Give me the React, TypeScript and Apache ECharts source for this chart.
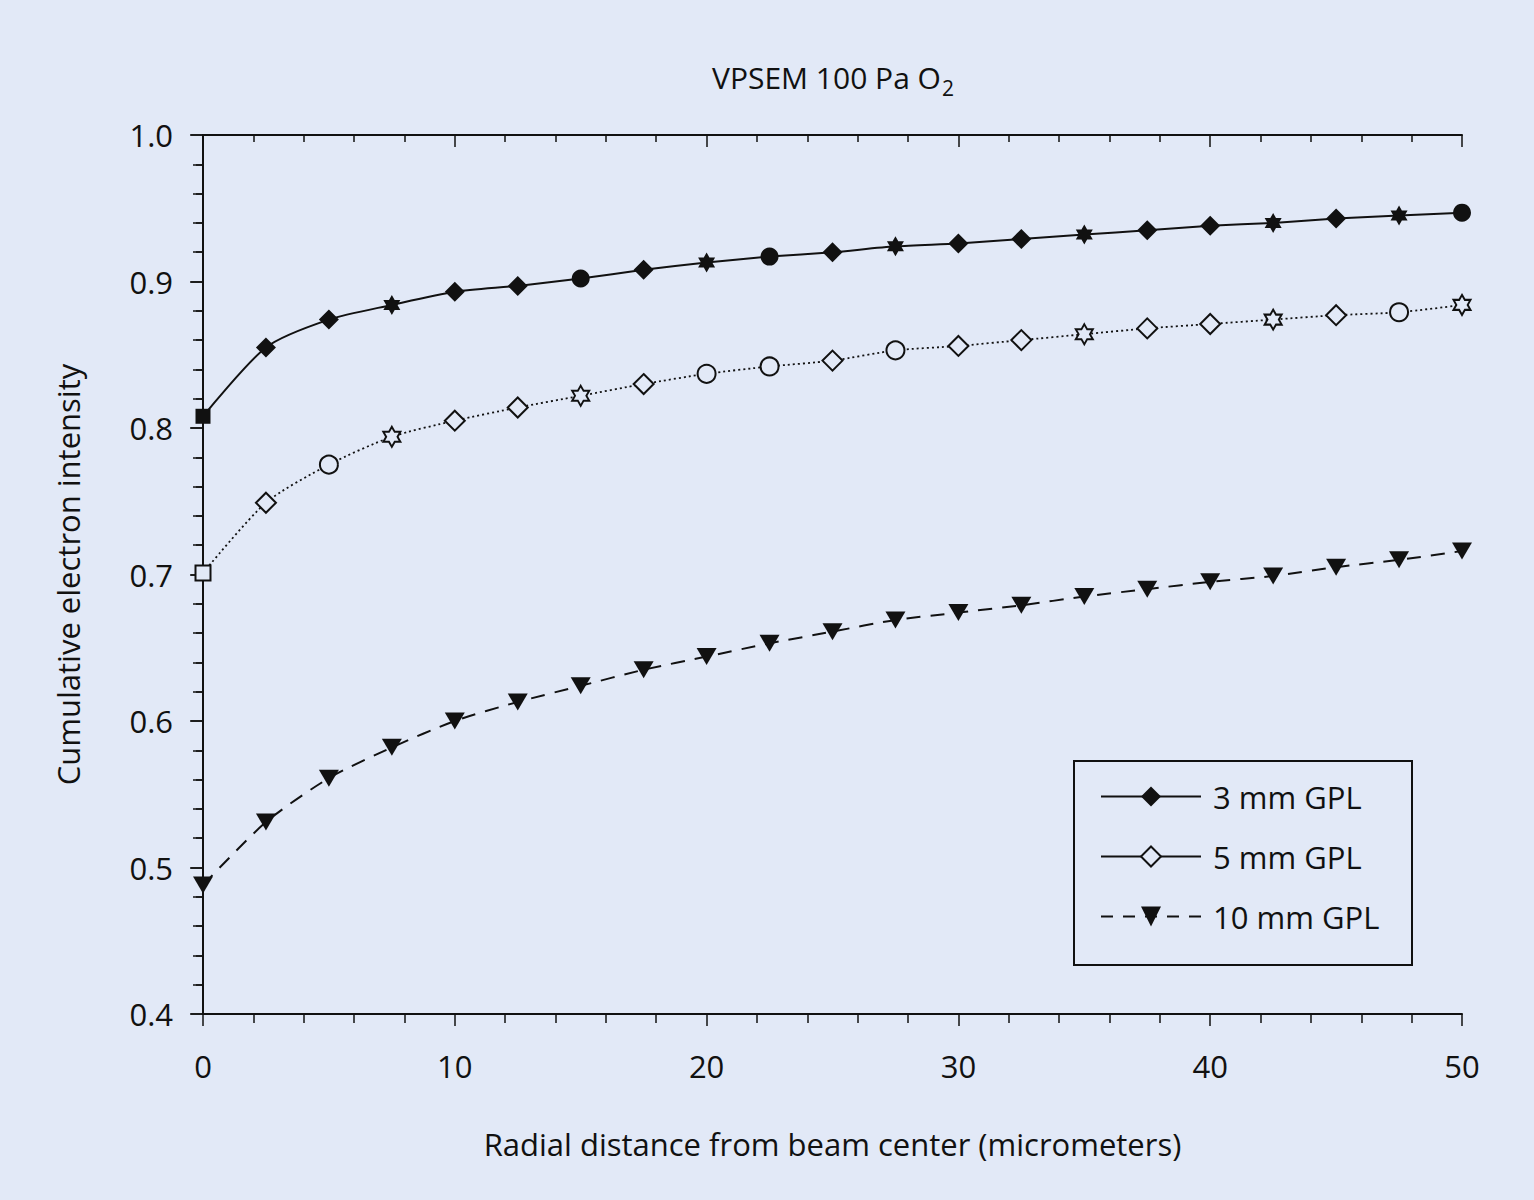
import React, { useEffect, useRef } from "react";
import * as echarts from "echarts";

const BG = "#e2e9f7";
const INK = "#111111";
const FONT = "Open Sans";
const FS = 31;

const xValues = [0, 2.5, 5, 7.5, 10, 12.5, 15, 17.5, 20, 22.5, 25, 27.5, 30, 32.5, 35, 37.5, 40, 42.5, 45, 47.5, 50];

const gpl3 = [0.808, 0.855, 0.874, 0.884, 0.893, 0.897, 0.902, 0.908, 0.913, 0.917, 0.920, 0.924, 0.926, 0.929, 0.932, 0.935, 0.938, 0.940, 0.943, 0.945, 0.947];
const gpl3Markers = ["rect", "diamond", "diamond", "star", "diamond", "diamond", "circle", "diamond", "star", "circle", "diamond", "star", "diamond", "diamond", "star", "diamond", "diamond", "star", "diamond", "star", "circle"];

const gpl5 = [0.701, 0.749, 0.775, 0.794, 0.805, 0.814, 0.822, 0.830, 0.837, 0.842, 0.846, 0.853, 0.856, 0.860, 0.864, 0.868, 0.871, 0.874, 0.877, 0.879, 0.884];
const gpl5Markers = ["rect", "diamond", "circle", "star", "diamond", "diamond", "star", "diamond", "circle", "circle", "diamond", "circle", "diamond", "diamond", "star", "diamond", "diamond", "star", "diamond", "circle", "star"];

const gpl10 = [0.488, 0.531, 0.561, 0.582, 0.600, 0.613, 0.624, 0.635, 0.644, 0.653, 0.661, 0.669, 0.674, 0.679, 0.685, 0.690, 0.695, 0.699, 0.705, 0.710, 0.716];

const seriesNames = ["3 mm GPL", "5 mm GPL", "10 mm GPL"];
const yTicks = [0.4, 0.5, 0.6, 0.7, 0.8, 0.9, 1.0];

const STAR =
  "path://M0,-100L28.87,-50L86.6,-50L57.7,0L86.6,50L28.87,50L0,100L-28.87,50L-86.6,50L-57.7,0L-86.6,-50L-28.87,-50Z";

const markerSpec: Record<string, { symbol: string; size: number | number[] }> = {
  rect: { symbol: "rect", size: 15 },
  diamond: { symbol: "diamond", size: 20 },
  circle: { symbol: "circle", size: 18 },
  star: { symbol: STAR, size: [17, 20] },
};

function buildData(values: number[], markers: string[]) {
  return values.map((v, i) => {
    const spec = markerSpec[markers[i]];
    return {
      value: [xValues[i], v],
      symbol: spec.symbol,
      symbolSize: spec.size,
    };
  });
}

export default function App() {
  const ref = useRef<HTMLDivElement>(null);
  useEffect(() => {
    if (!ref.current) return;
    const chart = echarts.init(ref.current, null, { renderer: "svg" });
    const axisLine = { show: true, lineStyle: { color: INK, width: 2 } };
    const option: any = {
      animation: false,
      backgroundColor: BG,
      textStyle: { fontFamily: FONT, color: INK },
      title: {
        text: "{a|VPSEM 100 Pa O}{b|2}",
        left: 828,
        top: 52,
        textAlign: "center",
        textStyle: {
          fontWeight: "normal",
          rich: {
            a: { fontFamily: FONT, fontSize: 30, fontWeight: "normal", color: INK },
            b: { fontFamily: FONT, fontSize: 21, fontWeight: "normal", color: INK, padding: [20, 0, 0, 1] },
          },
        },
      },
      grid: { left: 203, right: 72, top: 135, bottom: 186, containLabel: false },
      xAxis: [
        {
          type: "value",
          min: 0,
          max: 50,
          interval: 10,
          position: "bottom",
          axisLine,
          axisTick: { show: true, length: 12, lineStyle: { color: INK, width: 1.5 } },
          minorTick: { show: true, splitNumber: 5, length: 9, lineStyle: { color: INK, width: 1.5 } },
          splitLine: { show: false },
          axisLabel: { margin: 36, fontSize: FS, color: INK, fontFamily: FONT },
          name: "Radial distance from beam center (micrometers)",
          nameLocation: "middle",
          nameGap: 114,
          nameTextStyle: { fontSize: FS, color: INK, fontFamily: FONT },
        },
        {
          type: "value",
          min: 0,
          max: 50,
          interval: 10,
          position: "top",
          axisLine,
          axisTick: { show: true, inside: true, length: 12, lineStyle: { color: INK, width: 1.5 } },
          minorTick: { show: true, splitNumber: 5, length: 7, lineStyle: { color: INK, width: 1.5 } },
          splitLine: { show: false },
          axisLabel: { show: false },
        },
      ],
      yAxis: [
        {
          type: "value",
          min: yTicks[0],
          max: yTicks[yTicks.length - 1],
          interval: 0.1,
          position: "left",
          axisLine,
          axisTick: { show: true, length: 12, lineStyle: { color: INK, width: 1.5 } },
          minorTick: { show: true, splitNumber: 5, length: 10, lineStyle: { color: INK, width: 1.5 } },
          splitLine: { show: false },
          axisLabel: {
            margin: 30,
            fontSize: FS,
            color: INK,
            fontFamily: FONT,
            formatter: (v: number) => v.toFixed(1),
          },
          name: "Cumulative electron intensity",
          nameLocation: "middle",
          nameGap: 120,
          nameTextStyle: { fontSize: FS, color: INK, fontFamily: FONT },
        },
        {
          type: "value",
          min: yTicks[0],
          max: yTicks[yTicks.length - 1],
          interval: 0.1,
          position: "right",
          axisLine,
          axisTick: { show: true, inside: true, length: 13, lineStyle: { color: INK, width: 1.5 } },
          minorTick: { show: true, splitNumber: 5, length: 7, lineStyle: { color: INK, width: 1.5 } },
          splitLine: { show: false },
          axisLabel: { show: false },
        },
      ],
      legend: {
        orient: "vertical",
        left: 1095,
        top: 776,
        itemWidth: 100,
        itemHeight: 25,
        itemGap: 29,
        selectedMode: false,
        textStyle: { fontSize: FS, color: INK, fontFamily: FONT, padding: [0, 0, 0, 7] },
        data: [
          { name: seriesNames[0], itemStyle: { color: INK, borderWidth: 0 }, lineStyle: { type: "solid", width: 2, color: INK } },
          {
            name: seriesNames[1],
            itemStyle: { color: BG, borderColor: INK, borderWidth: 2 },
            lineStyle: { type: "solid", width: 2, color: INK },
          },
          { name: seriesNames[2], itemStyle: { color: INK, borderWidth: 0 }, lineStyle: { type: [12, 10], width: 2, color: INK } },
        ],
      },
      graphic: [
        {
          type: "rect",
          left: 1073,
          top: 760,
          shape: { width: 338, height: 204 },
          style: { fill: BG, stroke: INK, lineWidth: 2 },
          z: 0,
          silent: true,
        },
      ],
      series: [
        {
          name: seriesNames[0],
          type: "line",
          smooth: 0.25,
          symbol: "diamond",
          data: buildData(gpl3, gpl3Markers),
          lineStyle: { color: INK, width: 2, type: "solid" },
          itemStyle: { color: INK },
          z: 3,
        },
        {
          name: seriesNames[1],
          type: "line",
          smooth: 0.25,
          symbol: "diamond",
          data: buildData(gpl5, gpl5Markers),
          lineStyle: { color: INK, width: 1.8, type: [2, 3] },
          itemStyle: { color: BG, borderColor: INK, borderWidth: 2 },
          z: 3,
        },
        {
          name: seriesNames[2],
          type: "line",
          smooth: 0.25,
          symbol: "triangle",
          symbolRotate: 180,
          symbolSize: [20, 17],
          data: gpl10.map((v, i) => [xValues[i], v]),
          lineStyle: { color: INK, width: 2, type: [14, 10] },
          itemStyle: { color: INK },
          z: 3,
        },
      ],
    };
    chart.setOption(option);
    return () => chart.dispose();
  }, []);
  return (
    <div
      ref={ref}
      style={{ position: "absolute", left: 0, top: 0, width: 1534, height: 1200 }}
    />
  );
}
